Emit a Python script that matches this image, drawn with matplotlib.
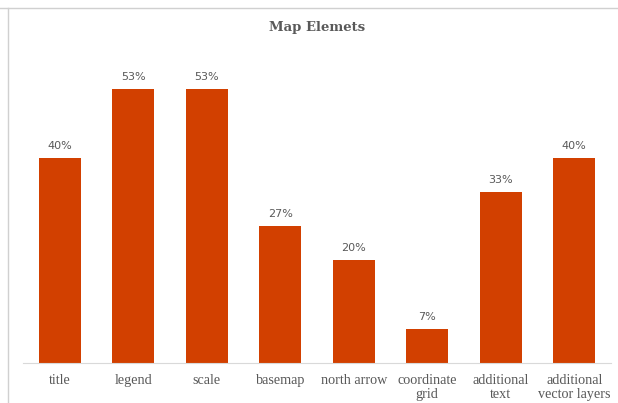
import matplotlib
matplotlib.use('Agg')
import matplotlib.pyplot as plt
from matplotlib.lines import Line2D

categories = ['title', 'legend', 'scale', 'basemap', 'north arrow',
              'coordinate\ngrid', 'additional\ntext', 'additional\nvector layers']
values = [40.0, 53.33, 53.33, 26.67, 20.0, 6.67, 33.33, 40.0]

bar_color = '#D24000'
text_gray = '#595959'

fig = plt.figure(figsize=(6.18, 4.03), dpi=100)
ax = fig.add_axes([23 / 618, 40 / 403, 588 / 618, 308 / 403])

x = range(len(categories))
ax.bar(x, values, width=0.57, color=bar_color)
for i, v in zip(x, values):
    ax.annotate(f'{v:.0f}%', (i, v), xytext=(0, 5), textcoords='offset points',
                ha='center', va='bottom', fontsize=8, color=text_gray,
                family='DejaVu Sans')

ax.set_xlim(-0.5, len(categories) - 0.5)
ax.set_ylim(0, 60)
ax.set_yticks([])
ax.set_xticks(list(x))
ax.set_xticklabels(categories, family='Liberation Serif', fontsize=10.2,
                   color=text_gray, linespacing=1.1)
ax.tick_params(axis='x', length=0, pad=8)
for s in ['top', 'right', 'left']:
    ax.spines[s].set_visible(False)
ax.spines['bottom'].set_color('#d9d9d9')

fig.text(317 / 618, 1 - 28 / 403, 'Map Elemets', ha='center', va='center',
         family='DejaVu Serif', fontweight='bold', fontsize=9.5, color=text_gray)

# frame lines from the screenshot
fig.add_artist(Line2D([0, 1], [1 - 8 / 403, 1 - 8 / 403], color='#d0d0d0', lw=1))
fig.add_artist(Line2D([8 / 618, 8 / 618], [0, 1 - 8 / 403], color='#d0d0d0', lw=1))

fig.savefig('out.png', dpi=100)
